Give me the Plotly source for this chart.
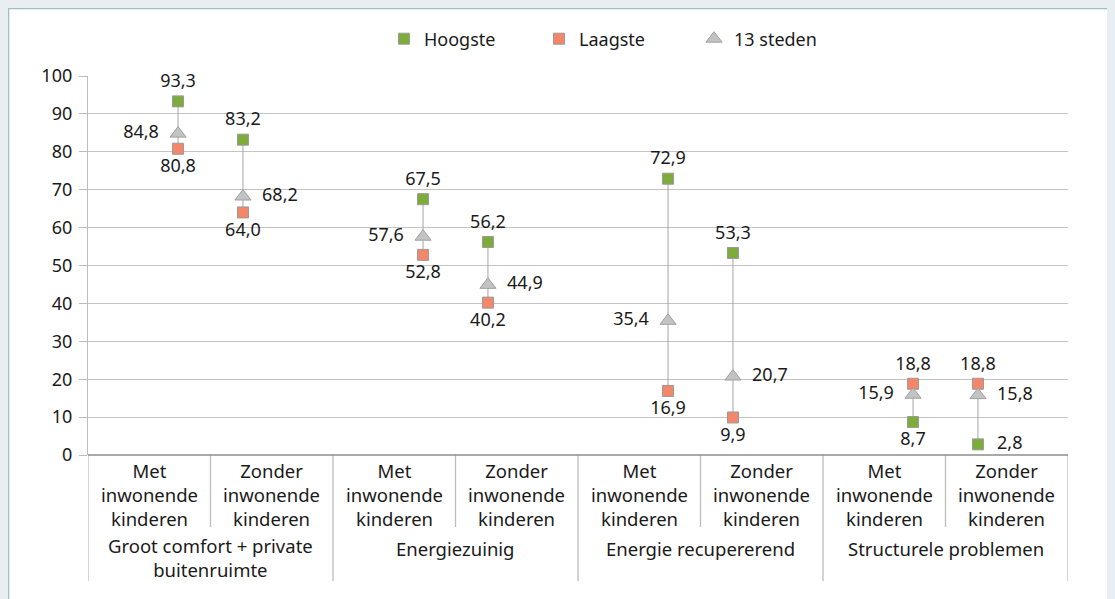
import plotly.graph_objects as go

# ---- data ----
groups = ["Groot comfort + private<br>buitenruimte", "Energiezuinig",
          "Energie recupererend", "Structurele problemen"]
subcats = ["Met<br>inwonende<br>kinderen", "Zonder<br>inwonende<br>kinderen"]
hoogste = [93.3, 83.2, 67.5, 56.2, 72.9, 53.3, 8.7, 2.8]
laagste = [80.8, 64.0, 52.8, 40.2, 16.9, 9.9, 18.8, 18.8]
steden = [84.8, 68.2, 57.6, 44.9, 35.4, 20.7, 15.9, 15.8]
y_ticks = list(range(0, 101, 10))

# ---- label placement (style) ----
pos_hoog = ["top center"] * 6 + ["bottom center", "middle right"]
pos_laag = ["bottom center"] * 6 + ["top center", "top center"]
pos_sted = ["middle left", "middle right"] * 4

# ---- layout geometry (figure sits at page offset 8,8) ----
W, H = 1107, 591
ML, MR, MT, MB = 80, 47, 68, 144
PW, PH = W - ML - MR, H - MT - MB
OFF = 0.265
n = len(hoogste)
xs = [2 * (i // 2) + 1 + (-OFF if i % 2 == 0 else OFF) for i in range(n)]


def px2x(px):
    return (px - ML) / PW


def py2y(py):
    return (H - MB - py) / PH


def fmt(v):
    return f"{v:.1f}".replace(".", ",")


def pad_size(p):
    return 29 if p.startswith("middle") else 14


FONT = "Noto Sans"
TXT = "#1a1a1a"
FS = 18
FS_CAT = 18.5

fig = go.Figure()

# high-low lines
lx, ly = [], []
for i in range(n):
    vals = [hoogste[i], laagste[i], steden[i]]
    lx += [xs[i], xs[i], None]
    ly += [min(vals), max(vals), None]
fig.add_trace(go.Scatter(x=lx, y=ly, mode="lines", line=dict(color="#a6a6a6", width=1),
                         showlegend=False, hoverinfo="skip"))

fig.add_trace(go.Scatter(x=xs, y=hoogste, mode="markers", name="Hoogste", cliponaxis=False,
                         marker=dict(symbol="square", size=11, color="#7cad3a",
                                     line=dict(color="#9a9a9a", width=1))))
fig.add_trace(go.Scatter(x=xs, y=laagste, mode="markers", name="Laagste", cliponaxis=False,
                         marker=dict(symbol="square", size=11, color="#f4876a",
                                     line=dict(color="#9a9a9a", width=1))))
fig.add_trace(go.Scatter(x=xs, y=steden, mode="markers", name="13 steden", cliponaxis=False,
                         marker=dict(symbol="triangle-up", size=14, color="#c3c3c3",
                                     line=dict(color="#a0a0a0", width=1))))

for vals, pos in [(hoogste, pos_hoog), (laagste, pos_laag), (steden, pos_sted)]:
    fig.add_trace(go.Scatter(x=xs, y=vals, mode="markers+text", text=[fmt(v) for v in vals],
                             textposition=pos, textfont=dict(family=FONT, size=FS, color=TXT),
                             cliponaxis=False,
                             marker=dict(size=[pad_size(p) for p in pos],
                                         color="rgba(0,0,0,0)", opacity=1,
                                         line=dict(width=0)),
                             showlegend=False, hoverinfo="skip"))

shapes = []
annotations = []
# category axis dividers
for k in range(0, 9):
    y1 = py2y(573) if k % 2 == 0 else py2y(519)
    shapes.append(dict(type="line", xref="x", yref="paper", x0=k, x1=k, y0=0, y1=y1,
                       line=dict(color="#bdbdbd", width=1.3)))
# bottom axis line
shapes.append(dict(type="line", xref="paper", yref="paper", x0=0, x1=1, y0=0, y1=0,
                   line=dict(color="#8c8c8c", width=1.3)))
# frame border (top and left)
shapes.append(dict(type="line", xref="paper", yref="paper", x0=px2x(0), x1=px2x(W),
                   y0=py2y(0.5), y1=py2y(0.5), line=dict(color="#9dbdca", width=1.5)))
shapes.append(dict(type="line", xref="paper", yref="paper", x0=px2x(0.5), x1=px2x(0.5),
                   y0=py2y(H), y1=py2y(0), line=dict(color="#9dbdca", width=1.5)))

for i in range(n):
    annotations.append(dict(x=i + 0.5, xref="x", y=py2y(486), yref="paper",
                            yanchor="middle", text=subcats[i % 2], showarrow=False,
                            font=dict(family=FONT, size=FS_CAT, color=TXT), align="center"))
for g, name in enumerate(groups):
    two = "<br>" in name
    annotations.append(dict(x=2 * g + 1, xref="x", y=py2y(549.5 if two else 540), yref="paper",
                            yanchor="middle", text=name, showarrow=False,
                            font=dict(family=FONT, size=FS_CAT, color=TXT), align="center"))

fig.update_layout(
    width=W, height=H,
    margin=dict(l=ML, r=MR, t=MT, b=MB),
    paper_bgcolor="white", plot_bgcolor="white",
    font=dict(family=FONT, size=FS, color=TXT),
    showlegend=True,
    legend=dict(orientation="h", x=px2x(376), xanchor="left", y=py2y(31), yanchor="middle",
                entrywidth=110, entrywidthmode="pixels", itemwidth=30,
                font=dict(family=FONT, size=FS, color=TXT), bgcolor="rgba(0,0,0,0)"),
    xaxis=dict(range=[0, 8], showgrid=False, showticklabels=False, zeroline=False,
               showline=False, ticks=""),
    yaxis=dict(range=[0, 100], tickvals=y_ticks, showgrid=True, gridcolor="#c4c4c4",
               gridwidth=1, zeroline=False, showline=True, linecolor="#bdbdbd", linewidth=1.3,
               ticks="outside", ticklen=8, tickcolor="#bdbdbd", ticklabelstandoff=3,
               tickfont=dict(family=FONT, size=FS, color=TXT)),
    shapes=shapes, annotations=annotations,
)

fig.write_html("out.html",
               post_script="document.body.style.background='#e9eef2';")
